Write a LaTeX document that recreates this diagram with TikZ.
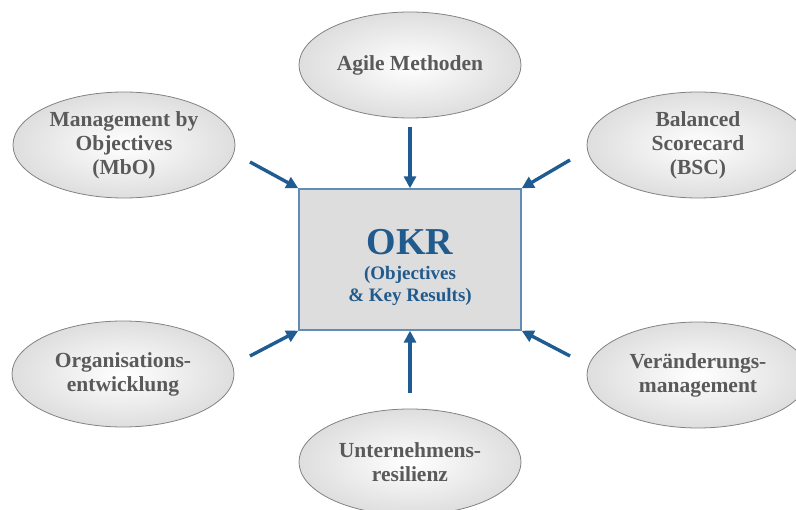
\documentclass[tikz,border=0pt]{standalone}
\usepackage{fontspec}
\setmainfont{Liberation Serif}
\usetikzlibrary{positioning,arrows.meta,shapes.geometric}
\definecolor{OkrBlue}{RGB}{30,92,146}
\definecolor{OkrText}{RGB}{33,90,140}
\definecolor{FrameBlue}{RGB}{96,140,182}
\definecolor{CoreFill}{RGB}{221,221,221}
\definecolor{BubbleText}{RGB}{90,90,90}
\definecolor{BubbleRim}{RGB}{130,130,130}
\definecolor{BubbleEdge}{RGB}{222,222,222}
\newcommand{\okrbig}{\fontsize{38}{40}\selectfont\rule{0pt}{42pt}}
\tikzset{
  inflow/.style={-{Triangle[length=12pt,width=12pt]},line width=3.4pt,draw=OkrBlue},
  bubble/.style={ellipse,draw=BubbleRim,line width=0.8pt,inner color=white,outer color=BubbleEdge,
    minimum width=222pt,minimum height=106pt,inner sep=0pt,align=center,
    font=\fontsize{21.5}{24}\selectfont\bfseries,text=BubbleText},
  corebox/.style={draw=FrameBlue,line width=1.4pt,fill=CoreFill,minimum width=222pt,
    minimum height=141pt,align=center,text=OkrText,font=\fontsize{19}{22}\selectfont\bfseries}
}

\begin{document}
\begin{tikzpicture}[x=1pt,y=-1pt]
  \useasboundingbox (0,0) rectangle (796,510);
  \clip (0,0) rectangle (796,510);

  \node[corebox] (okr) at (410,259.5) {\okrbig OKR\\[3pt]
    (Objectives\\ \& Key Results)};

  % surrounding approaches
  \node[bubble] (agile) at (410,65) {Agile Methoden};
  \node[bubble] (mbo) at (124,145) {Management by\\Objectives\\(MbO)};
  \node[bubble] (bsc) at (698,145) {Balanced\\Scorecard\\(BSC)};
  \node[bubble] (orga) at (123,374) {Organisations-\\entwicklung};
  \node[bubble] (change) at (698,375) {Veränderungs-\\management};
  \node[bubble] (resil) at (410,462) {Unternehmens-\\resilienz};

  % arrow tails
  \coordinate (agileout) at (410,127);
  \coordinate (mboout) at (250,162);
  \coordinate (bscout) at (570,160);
  \coordinate (orgaout) at (250,356);
  \coordinate (changeout) at (570,356);
  \coordinate (resilout) at (410,393);

  \draw[inflow] (agileout) -- (okr.north);
  \draw[inflow] (mboout) -- (okr.north west);
  \draw[inflow] (bscout) -- (okr.north east);
  \draw[inflow] (orgaout) -- (okr.south west);
  \draw[inflow] (changeout) -- (okr.south east);
  \draw[inflow] (resilout) -- (okr.south);
\end{tikzpicture}
\end{document}
